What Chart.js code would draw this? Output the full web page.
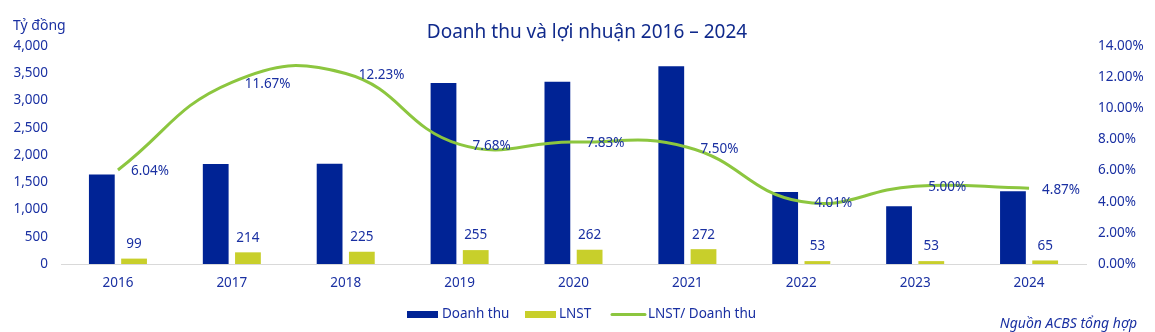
<!DOCTYPE html>
<html>
<head>
<meta charset="utf-8">
<script src="https://cdn.jsdelivr.net/npm/chart.js@4.4.1/dist/chart.umd.min.js"></script>
<style>
  html, body { margin: 0; padding: 0; background: #fff; }
  #wrap { width: 1155px; height: 332px; }
</style>
</head>
<body>
<div id="wrap"><canvas id="c" width="1155" height="332"></canvas></div>
<script>
// Data
const years    = ['2016', '2017', '2018', '2019', '2020', '2021', '2022', '2023', '2024'];
const revenue  = [1640, 1834, 1840, 3320, 3346, 3627, 1322, 1060, 1335];   // Doanh thu (tỷ đồng)
const profit   = [99, 214, 225, 255, 262, 272, 53, 53, 65];                // LNST
const margin   = [6.04, 11.67, 12.23, 7.68, 7.83, 7.50, 4.01, 5.00, 4.87]; // LNST / Doanh thu (%)

const TEXT = '#1a30a2';
const TITLE = '#102a8c';
const FONT = '"Noto Sans", sans-serif';
const C_REV = '#002395';
const C_PRO = '#c8cf2b';
const C_LINE = '#8cc63f';

// value labels + title, unit, legend, source
const decorations = {
  id: 'decorations',
  afterDatasetsDraw(chart) {
    const ctx = chart.ctx;
    ctx.save();
    ctx.fillStyle = TEXT;
    ctx.font = `13.5px ${FONT}`;

    // LNST labels above the bars
    const barMeta = chart.getDatasetMeta(2);
    ctx.textAlign = 'center';
    ctx.textBaseline = 'middle';
    barMeta.data.forEach((el, i) => {
      ctx.fillText(String(profit[i]), el.x, el.y - 14.5);
    });

    // margin labels to the right of the points
    const lineMeta = chart.getDatasetMeta(0);
    ctx.textAlign = 'left';
    lineMeta.data.forEach((p, i) => {
      ctx.fillText(margin[i].toFixed(2) + '%', p.x + 13, p.y + 1.5);
    });
    ctx.restore();
  },
  afterDraw(chart) {
    const ctx = chart.ctx;
    ctx.save();
    ctx.textBaseline = 'middle';

    // title
    ctx.fillStyle = TITLE;
    ctx.font = `19px ${FONT}`;
    ctx.textAlign = 'center';
    ctx.fillText('Doanh thu và lợi nhuận 2016 – 2024', 587, 33);

    // unit
    ctx.fillStyle = TEXT;
    ctx.font = `14px ${FONT}`;
    ctx.textAlign = 'left';
    ctx.fillText('Tỷ đồng', 13, 26);

    // legend
    ctx.font = `13.5px ${FONT}`;
    ctx.fillStyle = C_REV;
    ctx.fillRect(407, 311, 31, 7);
    ctx.fillStyle = C_PRO;
    ctx.fillRect(525, 311, 31, 7);
    ctx.strokeStyle = C_LINE;
    ctx.lineWidth = 3;
    ctx.lineCap = 'round';
    ctx.beginPath();
    ctx.moveTo(612, 314.5);
    ctx.lineTo(645, 314.5);
    ctx.stroke();
    ctx.fillStyle = TEXT;
    ctx.fillText('Doanh thu', 442, 314.5);
    ctx.fillText('LNST', 559, 314.5);
    ctx.fillText('LNST/ Doanh thu', 648, 314.5);

    // source
    ctx.font = `italic 14px ${FONT}`;
    ctx.textAlign = 'right';
    ctx.fillText('Nguồn ACBS tổng hợp', 1137, 324);
    ctx.restore();
  }
};

new Chart(document.getElementById('c'), {
  data: {
    labels: years,
    datasets: [
      {
        type: 'line',
        label: 'LNST/ Doanh thu',
        data: margin,
        yAxisID: 'y1',
        borderColor: C_LINE,
        borderWidth: 3,
        tension: 0.45,
        pointRadius: 0,
        fill: false,
        order: 0,
      },
      {
        type: 'bar',
        label: 'Doanh thu',
        data: revenue,
        yAxisID: 'y',
        backgroundColor: C_REV,
        categoryPercentage: 0.566,
        barPercentage: 0.8,
        order: 1,
      },
      {
        type: 'bar',
        label: 'LNST',
        data: profit,
        yAxisID: 'y',
        backgroundColor: C_PRO,
        categoryPercentage: 0.566,
        barPercentage: 0.8,
        order: 2,
      },
    ],
  },
  options: {
    responsive: false,
    animation: false,
    devicePixelRatio: 1,
    layout: { padding: { top: 46, left: 0, right: 0, bottom: 0 } },
    plugins: {
      legend: { display: false },
      title: { display: false },
      tooltip: { enabled: false },
    },
    scales: {
      x: {
        grid: { display: false, drawTicks: false },
        border: { display: true, color: '#d9d9d9', width: 1 },
        ticks: { color: TEXT, font: { family: FONT, size: 13.5 }, padding: 11 },
        afterFit(s) { s.height = 68; },
      },
      y: {
        position: 'left',
        min: 0,
        max: 4000,
        grid: { display: false, drawTicks: false },
        border: { display: false },
        ticks: {
          stepSize: 500,
          color: TEXT,
          font: { family: FONT, size: 13.5 },
          padding: 13,
          callback: v => v.toLocaleString('en-US'),
        },
        afterFit(s) { s.width = 61; },
      },
      y1: {
        position: 'right',
        min: 0,
        max: 14,
        grid: { display: false, drawTicks: false },
        border: { display: false },
        ticks: {
          stepSize: 2,
          color: TEXT,
          font: { family: FONT, size: 13.5 },
          padding: 12,
          callback: v => v.toFixed(2) + '%',
        },
        afterFit(s) { s.width = 69; },
      },
    },
  },
  plugins: [decorations],
});
</script>
</body>
</html>
